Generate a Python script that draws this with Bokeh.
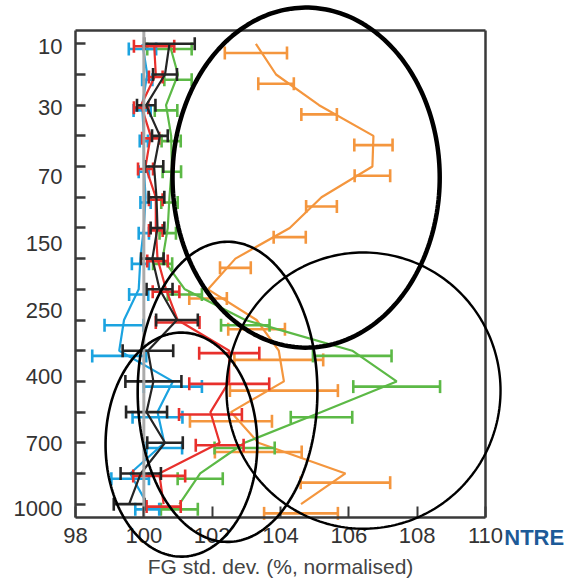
import numpy as np
from bokeh.plotting import figure
from bokeh.models import Range1d, FixedTicker, PolyAnnotation, Label, LinearAxis
from bokeh.embed import file_html
from bokeh.resources import INLINE

# ---------------- data ----------------
levels = [10, 20, 30, 50, 70, 100, 150, 200, 250, 300, 400, 500, 700, 850, 925, 1000]
level_pos = list(range(len(levels)))

orange_val = [103.28, 103.87, 105.13, 106.72, 106.69, 105.2, 104.27, 102.68, 101.88, 103.3, 103.95, 104.1, 102.55, 103.35, 105.9, 104.6]
orange_err = [0.91, 0.52, 0.52, 0.56, 0.52, 0.45, 0.47, 0.45, 0.55, 0.83, 1.3, 1.58, 1.2, 1.27, 1.31, 1.08]

green_val = [100.75, 101.0, 100.65, 100.8, 100.82, 100.75, 100.7, 100.55, 101.2, 102.97, 106.1, 107.4, 105.2, 102.95, 101.65, 101.04]
green_err = [0.65, 0.4, 0.33, 0.28, 0.27, 0.24, 0.24, 0.28, 0.5, 0.71, 1.15, 1.27, 0.9, 0.88, 0.66, 0.54]

blue_val = [99.96, 100.1, 99.95, 100.0, 100.0, 100.05, 100.0, 99.9, 99.85, 99.42, 99.28, 100.85, 100.4, 100.6, 99.6, 100.1]
blue_err = [0.4, 0.15, 0.25, 0.12, 0.15, 0.15, 0.15, 0.25, 0.28, 0.57, 0.79, 0.85, 0.73, 0.52, 0.55, 0.35]

red_val = [100.3, 100.35, 99.92, 100.2, 100.05, 100.35, 100.35, 100.4, 100.65, 100.99, 102.5, 102.5, 101.95, 102.22, 100.45, 100.58]
red_err = [0.59, 0.2, 0.21, 0.25, 0.22, 0.2, 0.2, 0.3, 0.39, 0.64, 0.88, 1.17, 0.92, 0.7, 0.76, 0.5]

black_val = [100.75, 100.62, 100.07, 100.47, 100.3, 100.37, 100.4, 100.25, 100.46, 100.97, 100.12, 100.28, 100.08, 100.62, 99.91, 99.57]
black_err = [0.74, 0.35, 0.27, 0.23, 0.27, 0.23, 0.2, 0.33, 0.38, 0.61, 0.74, 0.82, 0.6, 0.52, 0.59, 0.45]

reference_value = 100

x_ticks = [98, 100, 102, 104, 106, 108, 110]
y_tick_labels = ["10", "30", "70", "150", "250", "400", "700", "1000"]
y_tick_label_pos = [0.08, 2.09, 4.33, 6.51, 8.68, 10.84, 13.02, 15.13]

x_label = "FG std. dev. (%, normalised)"
logo_text = "NTRE"

# plot box (data extent of the framed chart)
box_x = (98, 110)
box_y = (-0.433, 15.425)   # top, bottom (level axis runs downward)

# ---------------- figure ----------------
FONT = "Liberation Sans"
AX = "#3a3a3a"

p = figure(width=567, height=579,
           x_range=Range1d(95.805, 112.40), y_range=Range1d(17.455, -1.411),
           output_backend="svg", toolbar_location=None, title=None,
           x_axis_location=None, y_axis_location=None,
           min_border=0, min_border_left=0, min_border_right=0, min_border_top=0, min_border_bottom=0,
           background_fill_color="white", border_fill_color="white", outline_line_color=None)
p.grid.visible = False

# bottom axis
xa = LinearAxis(fixed_location=box_y[1], bounds=box_x)
xa.ticker = FixedTicker(ticks=x_ticks, minor_ticks=[])
xa.major_tick_in = 11
xa.major_tick_out = 0
xa.minor_tick_in = 0
xa.minor_tick_out = 0
xa.axis_line_width = 2.5
xa.axis_line_color = AX
xa.major_tick_line_width = 2
xa.major_tick_line_color = AX
xa.major_label_text_font = FONT
xa.major_label_text_font_size = "22px"
xa.major_label_text_color = "#333333"
xa.major_label_standoff = 11
xa.axis_label = x_label
xa.axis_label_text_font = FONT
xa.axis_label_text_font_size = "21px"
xa.axis_label_text_font_style = "normal"
xa.axis_label_text_color = "#444444"
xa.axis_label_standoff = 8
p.add_layout(xa, "below")

# left axis
ya = LinearAxis(fixed_location=box_x[0], bounds=(box_y[0], box_y[1]))
ya.ticker = FixedTicker(ticks=y_tick_label_pos, minor_ticks=level_pos)
ya.major_label_overrides = {pos: lab for pos, lab in zip(y_tick_label_pos, y_tick_labels)}
ya.major_tick_in = 0
ya.major_tick_out = 0
ya.minor_tick_in = 10
ya.minor_tick_out = 0
ya.minor_tick_line_width = 2.5
ya.minor_tick_line_color = AX
ya.axis_line_width = 2.5
ya.axis_line_color = AX
ya.major_label_text_font = FONT
ya.major_label_text_font_size = "22px"
ya.major_label_text_color = "#333333"
ya.major_label_standoff = 13
p.add_layout(ya, "left")

# top and right frame lines
for loc, side, bnds in [(box_y[0], "above", box_x), (box_x[1], "right", (box_y[0], box_y[1]))]:
    fa = LinearAxis(fixed_location=loc, bounds=bnds, ticker=FixedTicker(ticks=[], minor_ticks=[]),
                    axis_line_width=2.5, axis_line_color=AX,
                    major_tick_line_color=None, minor_tick_line_color=None,
                    major_label_text_alpha=0)
    p.add_layout(fa, side)

# ---------------- series ----------------
series = [
    (orange_val, orange_err, "#F4963E", 0.30),
    (green_val, green_err, "#5CB946", 0.17),
    (blue_val, blue_err, "#1BA3E0", 0.17),
    (red_val, red_err, "#E8302C", 0.08),
    (black_val, black_err, "#252525", 0.0),
]

for vals, errs, color, off in series:
    p.line(vals, level_pos, line_color=color, line_width=2.2)
    base = [y + off for y in level_pos]
    lower = [v - e for v, e in zip(vals, errs)]
    upper = [v + e for v, e in zip(vals, errs)]
    p.segment(x0=lower, y0=base, x1=upper, y1=base, line_color=color, line_width=2.6)
    p.scatter(lower, base, marker="dash", angle=np.pi / 2, size=13, line_color=color, line_width=2.6)
    p.scatter(upper, base, marker="dash", angle=np.pi / 2, size=13, line_color=color, line_width=2.6)

# reference (normalisation) line
p.segment(x0=[reference_value], y0=[box_y[0]], x1=[reference_value], y1=[box_y[1]],
          line_color="#A6A6A6", line_width=3, line_alpha=0.95)

# ---------------- highlight ellipses (annotation) ----------------
ell_cx = [104.75, 102.45, 101.10, 106.43]
ell_cy = [4.36, 11.34, 13.06, 11.30]
ell_ax = [3.91, 2.63, 2.22, 4.01]
ell_ay = [5.54, 4.89, 3.65, 4.50]
ell_w = [4.5, 2.6, 2.6, 2.4]
t = np.linspace(0, 2 * np.pi, 240)
for cx, cy, ax_, ay_, lw in zip(ell_cx, ell_cy, ell_ax, ell_ay, ell_w):
    p.add_layout(PolyAnnotation(xs=list(cx + ax_ * np.cos(t)), ys=list(cy + ay_ * np.sin(t)),
                                xs_units="data", ys_units="data",
                                fill_color=None, fill_alpha=0,
                                line_color="black", line_alpha=1.0, line_width=lw))

p.add_layout(Label(x=110.55, y=16.1, text=logo_text, text_font=FONT, text_font_size="22px",
                   text_font_style="bold", text_color="#1D5A98", text_baseline="middle", text_align="left"))

open("out.html", "w").write(file_html(p, INLINE))
